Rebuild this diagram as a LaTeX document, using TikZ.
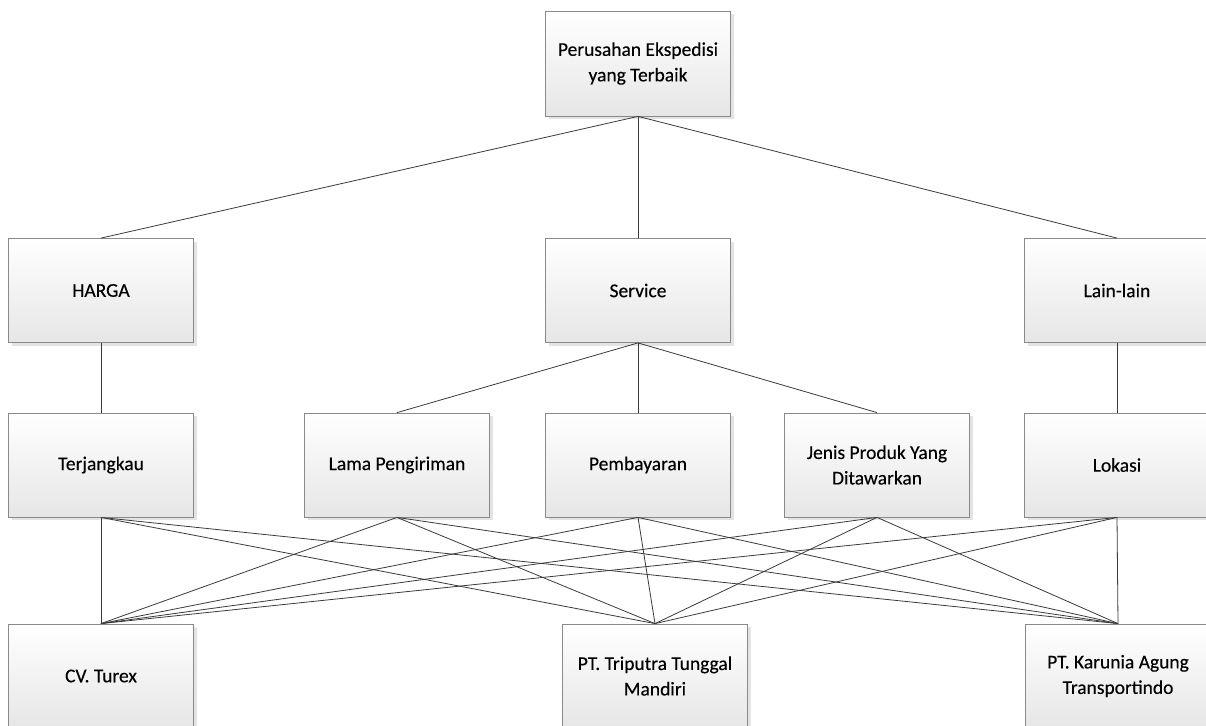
\documentclass[tikz,border=0pt]{standalone}
\usepackage{fontspec}
\setmainfont{Carlito}
\newfontfamily\boxfont{Carlito}[FakeBold=0.25]
\usetikzlibrary{shadows}

\begin{document}
\begin{tikzpicture}[
  x=1pt, y=-1pt,
  font=\boxfont\fontsize{19.5}{25.5}\selectfont,
  critbox/.style={draw=cBorder, line width=0.8pt, rectangle, align=center,
    minimum width=185pt, minimum height=104pt, inner sep=2pt,
    top color=white, bottom color=cFillB,
    drop shadow={opacity=0.22, shadow xshift=3pt, shadow yshift=-3pt}},
  link/.style={cLine, line width=0.8pt},
]
\definecolor{cBorder}{HTML}{8A8A8A}   % box outline
\definecolor{cFillB}{HTML}{E6E6E6}    % bottom of the box gradient
\definecolor{cLine}{HTML}{3A3A3A}     % connectors

% page = 1206 x 725 (one unit = one pixel)
\useasboundingbox (0,0) rectangle (1206,725);
\clip (0,0) rectangle (1206,725);

% =====================================================================
% Goal
% =====================================================================
\node[critbox, minimum height=105pt] (goal) at (638,63.5)
  {Perusahan Ekspedisi\\yang Terbaik};

% =====================================================================
% Criteria
% =====================================================================
\node[critbox] (harga)   at (101,290.5)  {HARGA};
\node[critbox] (service) at (638,290.5)  {Service};
\node[critbox] (lain)    at (1117,290.5) {Lain-lain};

% =====================================================================
% Sub-criteria
% =====================================================================
\node[critbox] (terjangkau) at (101,465)  {Terjangkau};
\node[critbox] (lama)       at (397,465)  {Lama Pengiriman};
\node[critbox] (bayar)      at (638,465)  {Pembayaran};
\node[critbox] (jenis)      at (877,465)  {Jenis Produk Yang\\Ditawarkan};
\node[critbox] (lokasi)     at (1117,465) {Lokasi};

% =====================================================================
% Alternatives (cut by the lower page edge)
% =====================================================================
\node[critbox] (turex)    at (101,676)  {CV. Turex};
\node[critbox] (triputra) at (655,676)  {PT. Triputra Tunggal\\Mandiri};
\node[critbox] (karunia)  at (1118,676) {PT. Karunia Agung\\Transportindo};

% =====================================================================
% Connectors
% =====================================================================
\foreach \c in {harga, service, lain}
  \draw[link] (goal.south) -- (\c.north);
\draw[link] (harga.south) -- (terjangkau.north);
\draw[link] (lain.south)  -- (lokasi.north);
\foreach \c in {lama, bayar, jenis}
  \draw[link] (service.south) -- (\c.north);

% every sub-criterion to every alternative
\foreach \s in {terjangkau, lama, bayar, jenis, lokasi}{
  \foreach \a in {turex, triputra, karunia}{
    \draw[link] (\s.south) -- (\a.north);
  }
}

\end{tikzpicture}
\end{document}
